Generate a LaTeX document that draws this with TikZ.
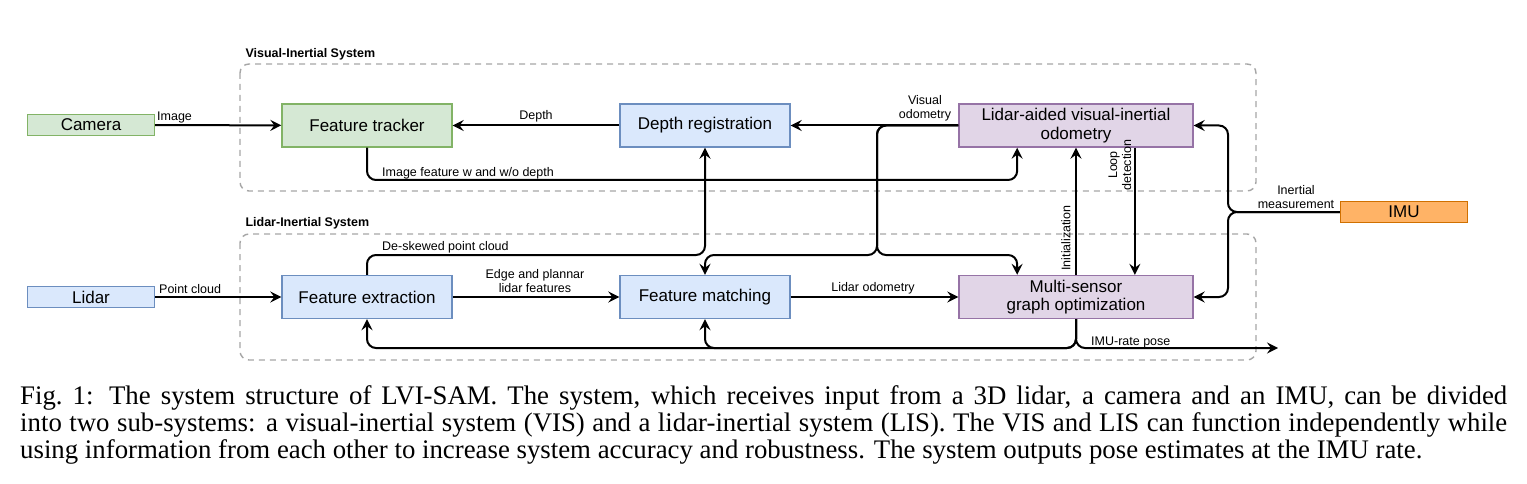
\documentclass[tikz,border=0pt]{standalone}
\usepackage{fontspec}
\setmainfont{Liberation Serif}
\newfontfamily\diafont{Liberation Sans}
\usetikzlibrary{arrows.meta,calc}

\definecolor{grnfill}{HTML}{D5E8D4}
\definecolor{grnline}{HTML}{82B366}
\definecolor{blufill}{HTML}{DAE8FC}
\definecolor{bluline}{HTML}{6C8EBF}
\definecolor{purfill}{HTML}{E1D5E7}
\definecolor{purline}{HTML}{9673A6}
\definecolor{orgfill}{HTML}{FFB366}
\definecolor{orgline}{HTML}{D07000}
\definecolor{sysline}{HTML}{A6A6A6}

\tikzset{
  blockbox/.style={draw, line width=1.4pt, minimum width=170pt, minimum height=43pt,
    align=center, inner sep=1pt, font=\diafont\fontsize{17}{18.5}\selectfont},
  sensorbox/.style={draw, line width=1.4pt, minimum width=127pt, minimum height=21pt,
    inner sep=0pt, font=\diafont\fontsize{17}{18.5}\selectfont},
  greenbox/.style={fill=grnfill, draw=grnline},
  bluebox/.style={fill=blufill, draw=bluline},
  purplebox/.style={fill=purfill, draw=purline},
  orangebox/.style={fill=orgfill, draw=orgline},
  sysframe/.style={draw=sysline, line width=1.4pt, dash pattern=on 6pt off 5pt, rounded corners=9pt},
  systitle/.style={anchor=base west, font=\diafont\bfseries\fontsize{12.5}{14}\selectfont},
  lbl/.style={align=center, inner sep=0pt, font=\diafont\fontsize{12.5}{14}\selectfont},
  arr/.style={-{Stealth[length=11pt,width=11pt,inset=4pt]}, line width=2pt, rounded corners=9pt}
}

\begin{document}
\begin{tikzpicture}[x=1pt,y=-1pt]
\useasboundingbox (0,0) rectangle (1527,484);

% system frames
\draw[sysframe] (240,64) rectangle (1256,191);
\draw[sysframe] (240,234) rectangle (1256,360);
\node[systitle] (vistitle) at (242,58) {Visual-Inertial System};
\node[systitle] (listitle) at (242,226) {Lidar-Inertial System};

% sensors
\node[sensorbox, greenbox] (cam) at (91,125) {Camera};
\node[sensorbox, bluebox] (lidar) at (91,297) {Lidar};
\node[sensorbox, orangebox] (imu) at (1404,212) {IMU};

% blocks
\node[blockbox, greenbox] (ft) at (367,125.5) {Feature tracker};
\node[blockbox, bluebox] (dr) at (705,125.5) {Depth registration};
\node[blockbox, purplebox, minimum width=234pt] (vio) at (1076,125.5) {Lidar-aided visual-inertial\\odometry};
\node[blockbox, bluebox] (fe) at (367,297) {Feature extraction};
\node[blockbox, bluebox] (fm) at (705,297) {Feature matching};
\node[blockbox, purplebox, minimum width=234pt] (ms) at (1076,297) {Multi-sensor\\graph optimization};

\coordinate (vioa) at ($(vio.south west)!0.25!(vio.south east)$);
\coordinate (viob) at ($(vio.south west)!0.75!(vio.south east)$);
\coordinate (msa) at ($(ms.north west)!0.25!(ms.north east)$);
\coordinate (msb) at ($(ms.north west)!0.75!(ms.north east)$);
\coordinate (poseout) at (1278,348);

% connectors
\draw[arr] (cam) -- (ft);
\draw[arr] (lidar) -- (fe);
\draw[arr] (dr) -- (ft);
\draw[arr] (vio) -- (dr);
\draw[arr] (vio.west) -- (877,125.5) -- (877,255) -- (705,255) -- (fm.north);
\draw[arr] (vio.west) -- (877,125.5) -- (877,255) -- (vioa |- 255,255) -- (msa);
\draw[arr] (ft.south) -- (367,180) -- (vioa |- 0,180) -- (vioa);
\draw[arr] (fe.north) -- (367,255) -- (705,255) -- (dr.south);
\draw[arr] (fe) -- (fm);
\draw[arr] (fm) -- (ms);
\draw[arr] (ms.north) -- (vio.south);
\draw[arr] (viob) -- (msb);
\draw[arr] (imu.west) -- (1228,212) -- (1228,125.5) -- (vio.east);
\draw[arr] (imu.west) -- (1228,212) -- (1228,297) -- (ms.east);
\draw[arr] (ms.south) -- (1076,348) -- (705,348) -- (fm.south);
\draw[arr] (ms.south) -- (1076,348) -- (367,348) -- (fe.south);
\draw[arr] (ms.south) -- (1076,348) -- (poseout);

% labels
\node[lbl, anchor=base west] (limage) at (157,121) {Image};
\node[lbl] (ldepth) at (536,116) {Depth};
\node[lbl] (lvo) at (925,108) {Visual\\odometry};
\node[lbl, anchor=base west] (limgfeat) at (382,177) {Image feature w and w/o depth};
\node[lbl, anchor=base west] (ldeskew) at (382,251) {De-skewed point cloud};
\node[lbl, anchor=base west] (lpc) at (159,293) {Point cloud};
\node[lbl] (ledge) at (535,281) {Edge and plannar\\lidar features};
\node[lbl] (llo) at (873,288) {Lidar odometry};
\node[lbl, rotate=90] (linit) at (1066,238) {Initialization};
\node[lbl, rotate=90] (lloop) at (1120,165) {Loop\\detection};
\node[lbl] (linert) at (1296,197) {Inertial\\measurement};
\node[lbl, anchor=base west] (lpose) at (1091,345) {IMU-rate pose};

% caption
\node[anchor=north west, inner sep=0pt, text width=1487pt, align=justify,
  font=\fontsize{26.8}{27}\selectfont] (caption) at (20,385)
  {Fig.~1: The system structure of LVI-SAM. The system, which receives input from a 3D lidar, a camera and an IMU, can be divided\linebreak
  into two sub-systems: a visual-inertial system (VIS) and a lidar-inertial system (LIS). The VIS and LIS can function independently while\linebreak
  using information from each other to increase system accuracy and robustness. The system outputs pose estimates at the IMU rate.};
\end{tikzpicture}
\end{document}
